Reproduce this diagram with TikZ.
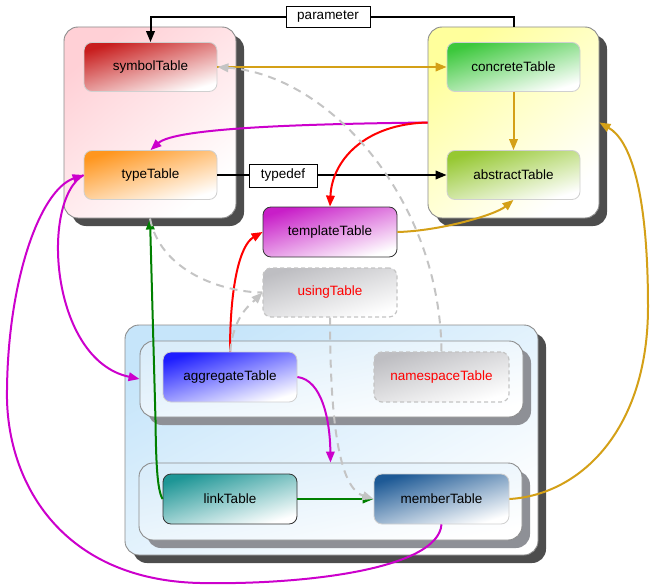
\documentclass[tikz,border=0pt]{standalone}
\usepackage{fontspec}
\setmainfont{Liberation Sans}
\usetikzlibrary{arrows.meta,calc}
\definecolor{cgold}{HTML}{D4A017}
\definecolor{cmag}{HTML}{CC00CC}
\definecolor{cgreen}{HTML}{008000}
\definecolor{cred}{HTML}{FF0000}
\definecolor{cdash}{HTML}{C4C4C4}
\definecolor{shdark}{HTML}{4D4D4D}
\definecolor{shlight}{HTML}{8E9096}
\definecolor{grpborder}{HTML}{8C8C8C}
\definecolor{tblborder}{HTML}{D0D0D0}
\definecolor{pinkbg}{HTML}{FFD0D6}
\definecolor{yellowbg}{HTML}{FFFF9C}
\definecolor{bluebg}{HTML}{C6E5FA}
\definecolor{innerbg}{HTML}{DAEDFA}
\definecolor{csym}{HTML}{C81E1E}
\definecolor{ctype}{HTML}{FF961E}
\definecolor{cconc}{HTML}{3CC83C}
\definecolor{cabs}{HTML}{96C832}
\definecolor{ctmpl}{HTML}{C81EC8}
\definecolor{cusing}{HTML}{BEBEC2}
\definecolor{cagg}{HTML}{1E1EFF}
\definecolor{clink}{HTML}{1E9696}
\definecolor{cmember}{HTML}{1E5A96}
\begin{document}
\begin{tikzpicture}[x=1pt,y=-1pt,
  font=\fontsize{13.5}{16}\selectfont,
  grad/.style={top color=#1, middle color=#1!50!white, bottom color=white, shading angle=17},
  ggrad/.style 2 args={top color=#1, bottom color=white, shading angle=#2},
  grp/.style={rectangle, rounded corners=14pt, draw=grpborder, line width=0.9pt, inner sep=0pt},
  tbl/.style={rectangle, rounded corners=8pt, draw=tblborder, line width=0.8pt, inner sep=0pt,
              minimum width=133pt, minimum height=49pt},
  darktbl/.style={tbl, draw=black!80},
  ghost/.style={tbl, draw=cdash, line width=1.2pt, dash pattern=on 4pt off 3pt, text=red},
  lbl/.style={draw=black, fill=white, line width=0.9pt, inner sep=0pt},
  conn/.style={line width=2pt, -{Triangle[length=11pt,width=8.5pt]}},
  dconn/.style={conn, draw=cdash, dash pattern=on 8pt off 6pt},
  dline/.style={line width=2pt, draw=cdash, dash pattern=on 8pt off 6pt}]
\useasboundingbox (0,0) rectangle (651,586);

% groups with shadows
\fill[shdark, rounded corners=14pt] (72,35) rectangle (244,226);
\node[grp, ggrad={pinkbg}{40}, minimum width=172pt, minimum height=191pt] (pinkgrp) at (150,122.5) {};
\fill[shdark, rounded corners=14pt] (436,35) rectangle (607,226);
\node[grp, ggrad={yellowbg}{40}, minimum width=171pt, minimum height=191pt] (yellowgrp) at (513.5,122.5) {};
\fill[shdark, rounded corners=14pt] (133,333) rectangle (546,563);
\node[grp, ggrad={bluebg}{28}, minimum width=413pt, minimum height=230pt] (bluegrp) at (331.5,440) {};
\fill[shlight, rounded corners=14pt] (148,349) rectangle (531,425);
\node[grp, ggrad={innerbg}{12}, minimum width=383pt, minimum height=76pt] (grp1) at (331.5,379) {};
\fill[shlight, rounded corners=14pt] (147,471) rectangle (530,548);
\node[grp, ggrad={innerbg}{12}, minimum width=383pt, minimum height=77pt] (grp2) at (330.5,501.5) {};

% tables
\node[tbl, grad=csym] (symbolTable) at (150.5,67) {symbolTable};
\node[tbl, grad=ctype] (typeTable) at (150.5,175) {typeTable};
\node[tbl, grad=cconc] (concreteTable) at (513.5,67) {concreteTable};
\node[tbl, grad=cabs] (abstractTable) at (513.5,175) {abstractTable};
\node[darktbl, grad=ctmpl, minimum width=134pt, minimum height=50pt] (templateTable) at (330,232) {templateTable};
\node[ghost, grad=cusing, minimum width=134pt] (usingTable) at (330,292.5) {usingTable};
\node[tbl, grad=cagg, minimum width=134pt, minimum height=50pt] (aggregateTable) at (230,377) {aggregateTable};
\node[ghost, grad=cusing, minimum width=135pt, minimum height=50pt] (namespaceTable) at (441.5,377) {namespaceTable};
\node[darktbl, grad=clink, minimum width=134pt, minimum height=50pt] (linkTable) at (230,499) {linkTable};
\node[tbl, grad=cmember, minimum width=135pt, minimum height=50pt] (memberTable) at (441.5,499) {memberTable};

% connectors
\draw[conn] (yellowgrp.north) -- ++(0,-10) -| (symbolTable.north);
\node[lbl, minimum width=84pt, minimum height=21pt] (plabel) at (328,16.5) {parameter};
\draw[conn, cgold] (symbolTable.east) -- (concreteTable.west);
\draw[conn, cgold] (concreteTable.south) -- (abstractTable.north);
\draw[conn] (typeTable.east) -- (abstractTable.west);
\node[lbl, minimum width=68pt, minimum height=23pt] (tlabel) at (283,175.5) {typedef};
\draw[conn, cgold] (templateTable.east) .. controls (440,231) and (495,215) .. (abstractTable.south);
\draw[conn, cgold] (memberTable.east) .. controls (580,495) and (648,430) .. (648,307)
   .. controls (648,190) and (630,140) .. (yellowgrp.east);
\draw[conn, cmag] (yellowgrp.west) .. controls (300,124) and (175,128) .. (typeTable.north);
\draw[conn, cred] (yellowgrp.west) .. controls (365,124) and (332,160) .. (templateTable.north);
\draw[conn, cred] (aggregateTable.north) .. controls (230,285) and (240,245) .. (templateTable.west);
\draw[conn, cgreen] (linkTable.west) .. controls (157,490) and (156,460) .. (155.5,420) -- (pinkgrp.south);
\draw[conn, cgreen] (linkTable.east) -- (memberTable.west);
\draw[conn, cmag] (aggregateTable.east) .. controls (322,380) and (330,420) .. (grp2.north);
\draw[conn, cmag] (typeTable.west) .. controls (40,200) and (50,360) .. (grp1.west);
\draw[conn, cmag] (memberTable.south) .. controls (438,570) and (300,585) .. (200,583)
   .. controls (60,580) and (5,480) .. (7,390) .. controls (8,280) and (40,190) .. (typeTable.west);
\draw[dconn] (namespaceTable.north) .. controls (440,200) and (330,75) .. (symbolTable.east);
\draw[dconn] (usingTable.south) .. controls (330,450) and (345,490) .. (memberTable.west);
\draw[dconn] (aggregateTable.north) .. controls (234,315) and (250,305) .. (usingTable.west);
\draw[dline] (pinkgrp.south) .. controls (160,270) and (220,292) .. (usingTable.west);
\end{tikzpicture}
\end{document}
